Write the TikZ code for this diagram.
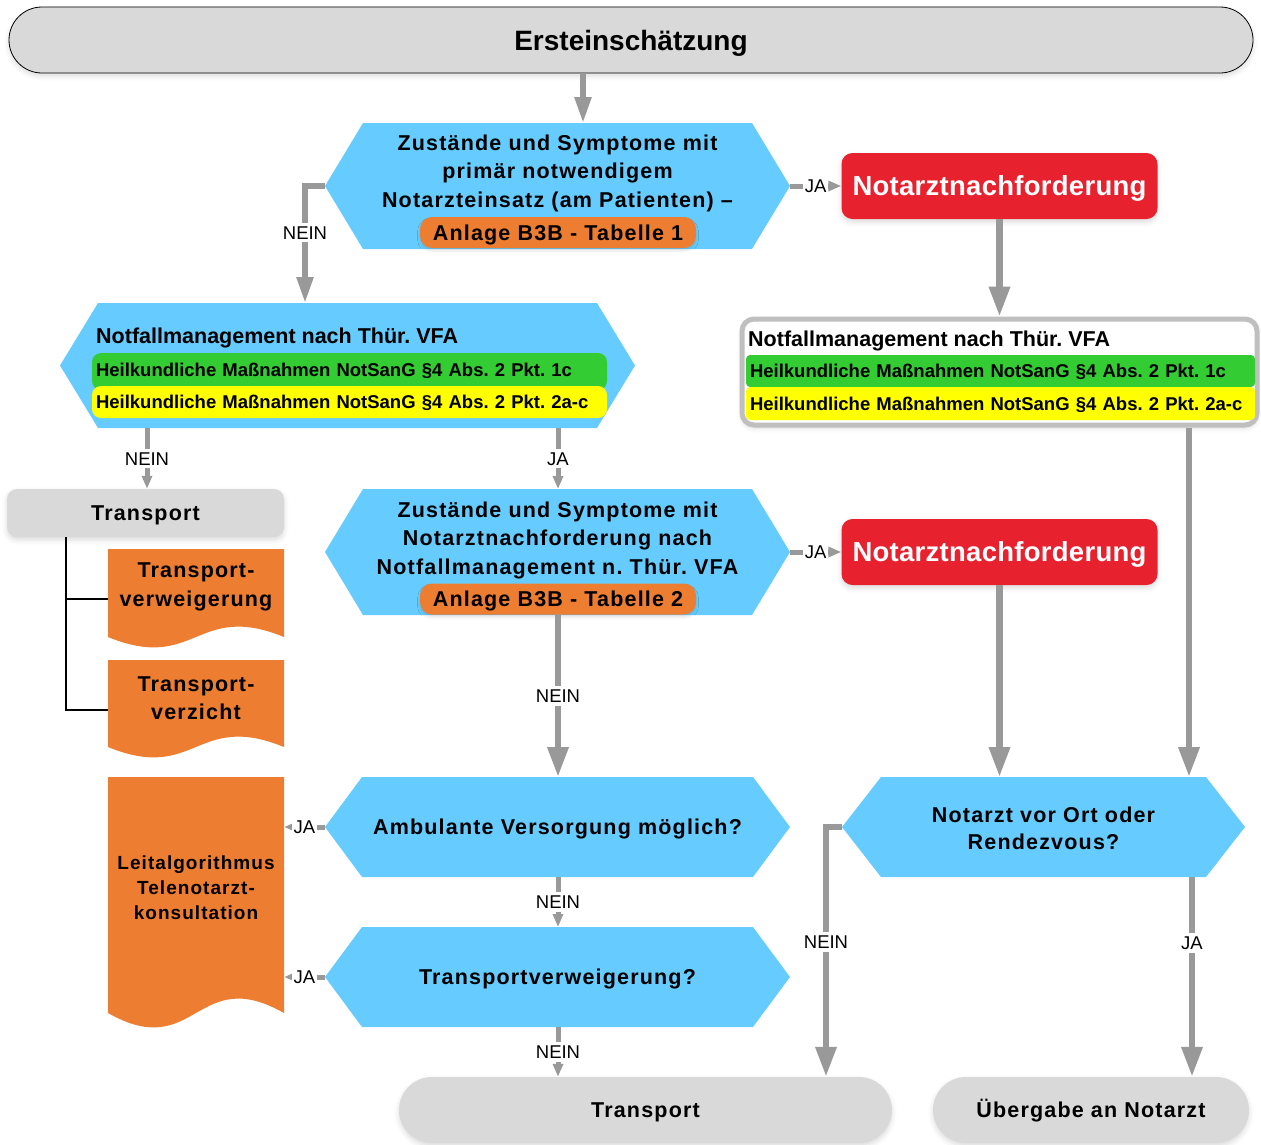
\documentclass[tikz,border=0pt]{standalone}
\usepackage{fontspec}
\setmainfont{Liberation Sans}
\newfontfamily\wide{Liberation Sans}[LetterSpace=5.5]
\newfontfamily\slight{Liberation Sans}[LetterSpace=1]
\usetikzlibrary{arrows.meta,shadows.blur}

\definecolor{hexblue}{HTML}{66CCFF}
\definecolor{termgray}{HTML}{D9D9D9}
\definecolor{linegray}{HTML}{999999}
\definecolor{orng}{HTML}{ED7D31}
\definecolor{alarmred}{HTML}{E8212F}
\definecolor{bargreen}{HTML}{33CC33}
\definecolor{baryellow}{HTML}{FFFF00}
\definecolor{boxgray}{HTML}{BFBFBF}

\newcommand\fbig{\wide\bfseries\fontsize{21.5}{28.5}\selectfont}
\newcommand\fleit{\wide\bfseries\fontsize{19}{25}\selectfont}
\newcommand\fhead{\bfseries\fontsize{21.5}{24}\selectfont}
\newcommand\fbar{\bfseries\fontsize{18.5}{22}\selectfont}
\newcommand\flbl{\fontsize{18.5}{20}\selectfont}

% hexagonal decision: name, left, right, top, bottom, slant
\newcommand\hexa[6]{%
  \fill[hexblue] (#2,{(#4+#5)/2}) -- ({#2+#6},#4) -- ({#3-#6},#4) -- (#3,{(#4+#5)/2})
    -- ({#3-#6},#5) -- ({#2+#6},#5) -- cycle;
  \node[frame, minimum width={(#3-#2)*1pt}, minimum height={(#5-#4)*1pt}] (#1)
    at ({(#2+#3)/2},{(#4+#5)/2}) {};
}
% document shape with wavy lower edge: name, left, right, top, lower edge, wave offset
\newcommand\docu[6]{%
  \fill[orng] (#2,#4) -- (#3,#4) -- (#3,#5)
    .. controls ({(#2+#3)/2},{#5-#6}) and ({(#2+#3)/2},{#5+#6}) .. (#2,#5) -- cycle;
  \node[frame, minimum width={(#3-#2)*1pt}, minimum height={(#5-#4)*1pt}] (#1)
    at ({(#2+#3)/2},{(#4+#5)/2}) {};
}

\tikzset{
  frame/.style={inner sep=0pt, outer sep=0pt},
  soft/.style={blur shadow={shadow xshift=0pt, shadow yshift=-3pt, shadow blur radius=5pt,
    shadow opacity=14}},
  softsmall/.style={blur shadow={shadow xshift=0pt, shadow yshift=-3pt, shadow blur radius=2.5pt,
    shadow opacity=10}},
  oneline/.style={text height=15.4pt, text depth=0pt},
  term/.style={fill=termgray, inner sep=0pt, font=\fbig, oneline, soft},
  pill/.style={fill=orng, rounded corners=12pt, inner sep=0pt, minimum width=276pt,
    minimum height=31pt, font=\fbig, oneline, softsmall},
  redbox/.style={fill=alarmred, rounded corners=11pt, inner sep=0pt, minimum width=316pt,
    minimum height=66pt, text=white, font=\slight\bfseries\fontsize{27.5}{30}\selectfont,
    text height=19.7pt, text depth=0pt, soft},
  bar/.style={inner xsep=4pt, inner ysep=0pt, align=left, font=\fbar,
    text height=13.2pt, text depth=0pt},
  conn/.style={draw=linegray, line width=6.5pt, -{Triangle[length=30pt,width=20pt]}},
  connmid/.style={draw=linegray, line width=5.5pt, -{Triangle[length=26pt,width=16pt]}},
  connsm/.style={draw=linegray, line width=5pt, -{Triangle[length=13pt,width=10pt]}},
  lbl/.style={fill=white, inner xsep=1.5pt, inner ysep=3pt, font=\flbl,
    text height=13.2pt, text depth=0pt},
  tie/.style={draw=black, line width=1.2pt},
}

\begin{document}
\frenchspacing
\begin{tikzpicture}[x=1pt,y=-1pt]
\useasboundingbox (0,0) rectangle (1261,1144);

% column positions of straight connectors
\coordinate (x66) at (66,0);
\coordinate (x147) at (147,0);
\coordinate (x305) at (305,0);
\coordinate (x558) at (558,0);
\coordinate (x583) at (583,0);
\coordinate (x826) at (826,0);
\coordinate (x1189) at (1189,0);
\coordinate (x1192) at (1192,0);

% start
\node[term, draw=black, line width=0.8pt, rounded corners=33pt, minimum width=1244pt,
  minimum height=66pt, font=\bfseries\fontsize{28}{32}\selectfont, text height=20pt] (erst) at (631,40) {Ersteinschätzung};

% first decision
\hexa{hex1}{325}{790}{123}{249}{38}
\node[align=center, font=\fbig, inner sep=0pt] (hex1t) at (557.5,173)
  {Zustände und Symptome mit\\primär notwendigem\\Notarzteinsatz (am Patienten) –};
\node[pill] (pill1) at (558,232.5) {Anlage B3B - Tabelle 1};

\node[redbox] (red1) at (999.5,186) {Notarztnachforderung};

% emergency management, left
\hexa{hex2}{60}{635}{303}{428}{38}
\node[anchor=west, inner sep=0pt, font=\fhead, text height=15.4pt, text depth=0pt] (hex2t) at (96,336) {Notfallmanagement nach Thür. VFA};
\node[bar, fill=bargreen, rounded corners=9pt, text width=507pt, minimum height=37pt] (g1) at (349.5,371.5)
  {\raisebox{2pt}{Heilkundliche Maßnahmen NotSanG §4 Abs. 2 Pkt. 1c}};
\node[bar, fill=baryellow, rounded corners=9pt, text width=507pt, minimum height=32pt] (y1) at (349.5,402)
  {Heilkundliche Maßnahmen NotSanG §4 Abs. 2 Pkt. 2a-c};

% emergency management, right
\node[draw=boxgray, line width=5pt, fill=white, rounded corners=12pt, minimum width=515pt,
  minimum height=106pt, inner sep=0pt, soft] (rbox) at (999.5,372) {};
\node[anchor=west, inner sep=0pt, font=\fhead, text height=15.4pt, text depth=0pt] (rboxt) at (748,339) {Notfallmanagement nach Thür. VFA};
\node[bar, fill=bargreen, rounded corners=4pt, text width=501pt, minimum height=32pt] (g2) at (1000.5,371)
  {Heilkundliche Maßnahmen NotSanG §4 Abs. 2 Pkt. 1c};
\node[bar, fill=baryellow, rounded corners=4pt, text width=501pt, minimum height=33pt] (y2) at (1000.5,403.5)
  {Heilkundliche Maßnahmen NotSanG §4 Abs. 2 Pkt. 2a-c};

% transport branch on the left
\node[term, rounded corners=10pt, minimum width=277pt, minimum height=48pt] (ltrans) at (145.5,513) {Transport};
\docu{doc1}{108}{284}{549}{637}{36}
\node[align=center, inner sep=0pt, font=\fbig] (doc1t) at (196,587) {Transport-\\verweigerung};
\docu{doc2}{108}{284}{660}{747}{36}
\node[align=center, inner sep=0pt, font=\fbig] (doc2t) at (196,698) {Transport-\\verzicht};
\docu{leit}{108}{284}{777}{1013}{50}
\node[align=center, inner sep=0pt, font=\fleit] (leitt) at (196,888) {Leitalgorithmus\\Telenotarzt-\\konsultation};

% second decision
\hexa{hex3}{325}{790}{489}{615}{38}
\node[align=center, font=\fbig, inner sep=0pt] (hex3t) at (557.5,540)
  {Zustände und Symptome mit\\Notarztnachforderung nach\\Notfallmanagement n. Thür. VFA};
\node[pill] (pill2) at (558,599) {Anlage B3B - Tabelle 2};

\node[redbox] (red2) at (999.5,552) {Notarztnachforderung};

% lower decisions
\hexa{amb}{325}{790}{777}{877}{37}
\node[font=\fbig, inner sep=0pt, oneline] (ambt) at (557.5,827) {Ambulante Versorgung möglich?};
\hexa{tverw}{325}{790}{927}{1027}{37}
\node[font=\fbig, inner sep=0pt, oneline] (tverwt) at (557.5,977) {Transportverweigerung?};
\hexa{nahex}{842}{1245}{777}{877}{39}
\node[align=center, font=\fbig, inner sep=0pt] (nahext) at (1043.5,828) {Notarzt vor Ort oder\\[-1.5pt]Rendezvous?};

% end points
\node[term, rounded corners=33pt, minimum width=493pt, minimum height=66pt] (btrans) at (645.5,1110) {Transport};
\node[term, rounded corners=33pt, minimum width=316pt, minimum height=66pt] (ueber) at (1091,1110) {Übergabe an Notarzt};

% connectors
\draw[connmid] (erst.south -| x583) -- (hex1.north -| x583);
\draw[connsm] (hex1.east) -- node[lbl] {JA} (red1.west);
\draw[connmid] (hex1.west) -| node[lbl, pos=0.7] {NEIN} (hex2.north -| x305);
\draw[conn] (red1.south) -- (rbox.north);
\draw[connsm] (hex2.south -| x147) -- node[lbl] {NEIN} (ltrans.north -| x147);
\draw[connsm] (hex2.south -| x558) -- node[lbl] {JA} (hex3.north -| x558);
\draw[connsm] (hex3.east) -- node[lbl] {JA} (red2.west);
\draw[conn] (hex3.south -| x558) -- node[lbl] {NEIN} (amb.north -| x558);
\draw[conn] (red2.south) -- (nahex.north -| red2.south);
\draw[conn] (rbox.south -| x1189) -- (nahex.north -| x1189);
\draw[connsm] (amb.west) -- node[lbl] {JA} (leit.east |- amb.west);
\draw[connsm] (amb.south -| x558) -- node[lbl] {NEIN} (tverw.north -| x558);
\draw[connsm] (tverw.west) -- node[lbl] {JA} (leit.east |- tverw.west);
\draw[connsm] (tverw.south -| x558) -- node[lbl] {NEIN} (btrans.north -| x558);
\draw[conn] (nahex.west) -| node[lbl, pos=0.73] {NEIN} (btrans.north -| x826);
\draw[conn] (nahex.south -| x1192) -- node[lbl, pos=0.33] {JA} (ueber.north -| x1192);

% ties from the left transport box to its documents
\draw[tie] (ltrans.south -| x66) |- ([yshift=-6pt]doc1.west);
\draw[tie] (ltrans.south -| x66) |- ([yshift=-6.5pt]doc2.west);
\end{tikzpicture}
\end{document}
